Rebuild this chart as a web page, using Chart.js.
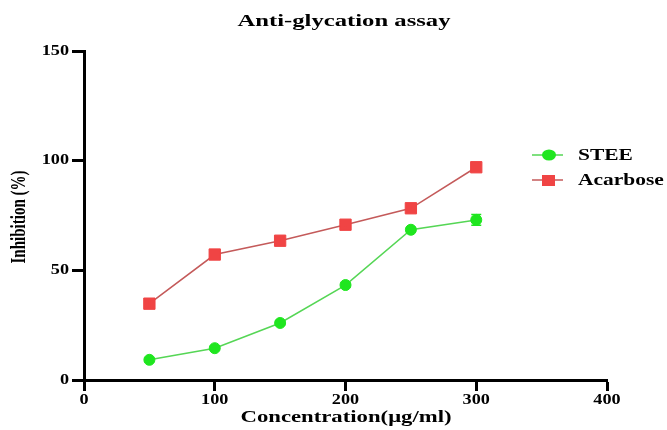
<!DOCTYPE html>
<html>
<head>
<meta charset="utf-8">
<script src="https://cdn.jsdelivr.net/npm/chart.js@4"></script>
<style>
  body { margin: 0; background: #fff; }
  #wrap { width: 667px; height: 430px; }
</style>
</head>
<body>
<div id="wrap"><canvas id="grafico"></canvas></div>
<script>
// dados
const concentracao = [50, 100, 150, 200, 250, 300];
const stee = [9.2, 14.5, 26, 43.3, 68.5, 73];
const steeErro = [0.8, 0.8, 1, 1, 1, 2.5];
const acarbose = [34.8, 57.2, 63.5, 70.8, 78.3, 97];
const acarboseErro = [2, 1, 1, 1, 1, 1];
const xTicks = [0, 100, 200, 300, 400];
const yTicks = [0, 50, 100, 150];

const fonte = '"Liberation Serif", "Times New Roman", serif';

// texto esticado na horizontal (a figura original está alargada)
function texto(ctx, str, x, y, size, sx, align) {
    ctx.save();
    ctx.font = 'bold ' + size + 'px ' + fonte;
    ctx.textBaseline = 'middle';
    ctx.textAlign = 'left';
    const w = ctx.measureText(str).width * sx;
    let x0 = x;
    if (align === 'center') x0 = x - w / 2;
    if (align === 'right') x0 = x - w;
    ctx.translate(x0, y);
    ctx.scale(sx, 1);
    ctx.fillText(str, 0, 0);
    ctx.restore();
}

// barras de erro
const barrasErro = {
    id: 'barrasErro',
    afterDatasetsDraw(chart) {
        const ctx = chart.ctx;
        const x = chart.scales.x, y = chart.scales.y;
        chart.data.datasets.forEach((ds) => {
            ctx.save();
            ctx.strokeStyle = ds.pointBackgroundColor;
            ctx.lineWidth = 1.5;
            ds.data.forEach((p, i) => {
                const e = ds.erro[i];
                const px = x.getPixelForValue(p.x);
                const y1 = y.getPixelForValue(p.y - e);
                const y2 = y.getPixelForValue(p.y + e);
                ctx.beginPath();
                ctx.moveTo(px, y1); ctx.lineTo(px, y2);
                ctx.moveTo(px - 5, y1); ctx.lineTo(px + 5, y1);
                ctx.moveTo(px - 5, y2); ctx.lineTo(px + 5, y2);
                ctx.stroke();
            });
            ctx.restore();
        });
    }
};

// título, rótulos dos eixos e legenda
const textos = {
    id: 'textos',
    afterDraw(chart) {
        const ctx = chart.ctx;
        const sx = chart.scales.x, sy = chart.scales.y;
        ctx.save();
        ctx.fillStyle = '#000';
        texto(ctx, 'Anti-glycation assay', 344, 22, 17, 1.45, 'center');

        sx.ticks.forEach(t => texto(ctx, String(t.value), sx.getPixelForValue(t.value), 400, 14, 1.3, 'center'));
        sy.ticks.forEach(t => texto(ctx, String(t.value), 69, sy.getPixelForValue(t.value), 14, 1.3, 'right'));

        texto(ctx, 'Concentration(μg/ml)', 346, 418, 16, 1.42, 'center');

        ctx.save();
        ctx.translate(20, 217);
        ctx.rotate(-Math.PI / 2);
        ctx.scale(1, 1.35);
        ctx.font = 'bold 15px ' + fonte;
        ctx.textAlign = 'center';
        ctx.textBaseline = 'middle';
        ctx.fillText('Inhibition (%)', 0, 0);
        ctx.restore();

        chart.data.datasets.forEach((ds, i) => {
            const ly = 155 + i * 25;
            ctx.strokeStyle = ds.borderColor;
            ctx.lineWidth = 1.5;
            ctx.beginPath();
            ctx.moveTo(532, ly); ctx.lineTo(563, ly);
            ctx.stroke();
            ctx.fillStyle = ds.pointBackgroundColor;
            if (ds.pointStyle === 'rect') {
                ctx.fillRect(542, ly - 5, 13, 11);
            } else {
                ctx.beginPath();
                ctx.ellipse(549, ly, 7, 5.5, 0, 0, Math.PI * 2);
                ctx.fill();
            }
            ctx.fillStyle = '#000';
            texto(ctx, ds.label, 578, ly + 1, 16, 1.34, 'left');
        });
        ctx.restore();
    }
};

const grafico = new Chart(document.getElementById('grafico').getContext('2d'), {
    type: 'line',
    data: {
        datasets: [
            {
                label: 'STEE',
                data: concentracao.map((c, i) => ({ x: c, y: stee[i] })),
                erro: steeErro,
                borderColor: '#55d655',
                pointBackgroundColor: '#1fe61f',
                pointBorderColor: '#1fe61f',
                pointStyle: 'circle',
                pointRadius: 5.5,
                pointBorderWidth: 1,
                borderWidth: 1.5,
                tension: 0
            },
            {
                label: 'Acarbose',
                data: concentracao.map((c, i) => ({ x: c, y: acarbose[i] })),
                erro: acarboseErro,
                borderColor: '#c45a5a',
                pointBackgroundColor: '#f04444',
                pointBorderColor: '#f04444',
                pointStyle: 'rect',
                pointRadius: 8,
                pointBorderWidth: 1,
                borderWidth: 1.5,
                tension: 0
            }
        ]
    },
    options: {
        responsive: true,
        maintainAspectRatio: false,
        animation: false,
        layout: { padding: { top: 51, right: 60, left: 0, bottom: 0 } },
        plugins: {
            legend: { display: false },
            title: { display: false },
            tooltip: { enabled: false }
        },
        scales: {
            x: {
                type: 'linear',
                min: 0,
                max: 400,
                afterBuildTicks: (s) => { s.ticks = xTicks.map(v => ({ value: v })); },
                afterFit: (s) => { s.height = 50; },
                border: { color: '#000', width: 3 },
                grid: { drawOnChartArea: false, tickLength: 11, tickColor: '#000', tickWidth: 3 },
                ticks: { display: false }
            },
            y: {
                min: 0,
                max: 150,
                afterBuildTicks: (s) => { s.ticks = yTicks.map(v => ({ value: v })); },
                afterFit: (s) => { s.width = 84; },
                border: { color: '#000', width: 3 },
                grid: { drawOnChartArea: false, tickLength: 12, tickColor: '#000', tickWidth: 3 },
                ticks: { display: false }
            }
        }
    },
    plugins: [barrasErro, textos]
});
</script>
</body>
</html>
